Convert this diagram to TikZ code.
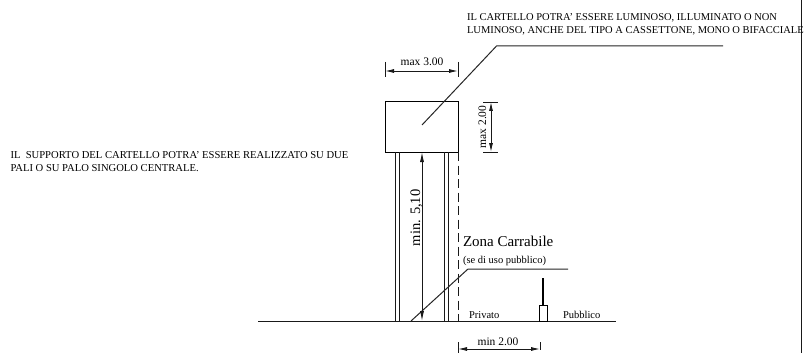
\documentclass[tikz,border=0pt]{standalone}
\usepackage{fontspec}
\setmainfont{Liberation Serif}
\usetikzlibrary{arrows.meta}
\tikzset{
  every node/.style={inner sep=0pt,outer sep=0pt,text=black},
  lbl/.style={anchor=base west},
  note/.style={lbl,font=\fontsize{10.5}{16}\selectfont},
  noteb/.style={lbl,font=\fontsize{10.6}{16}\selectfont},
  dimtext/.style={font=\fontsize{11.5}{12}\selectfont},
  small/.style={lbl,font=\fontsize{10.5}{12}\selectfont},
  line/.style={draw=black!90,line width=0.9pt},
  leader/.style={draw=black!85,line width=1pt},
  dim/.style={line,{Latex[length=9pt,width=4pt]}-{Latex[length=9pt,width=4pt]}},
  tick/.style={draw=black!90,line width=0.8pt}
}
\begin{document}
\begin{tikzpicture}[x=1pt,y=-1pt]
\useasboundingbox (0,0) rectangle (804,353);
\fill[white] (0,0) rectangle (804,353);
% frame edge
\coordinate (edgeT) at (801.5,0); \coordinate (edgeB) at (801.5,353);
\draw[line] (edgeT) -- (edgeB);
% notes
\node[note] (n1) at (467,20.5) {IL CARTELLO POTRA' ESSERE LUMINOSO, ILLUMINATO O NON};
\node[note] (n2) at (467,33.5) {LUMINOSO, ANCHE DEL TIPO A CASSETTONE, MONO O BIFACCIALE};
\node[noteb] (n3) at (10.5,158) {IL\ \ SUPPORTO DEL CARTELLO POTRA' ESSERE REALIZZATO SU DUE};
\node[noteb] (n4) at (10.5,171) {PALI O SU PALO SINGOLO CENTRALE.};
% ground
\coordinate (g1) at (258,321); \coordinate (g2) at (616,321);
\draw[line] (g1) -- (g2);
% board
\node[draw=black,line width=1pt,minimum width=73pt,minimum height=50pt,anchor=north west] (board) at (385,102) {};
% poles
\foreach \x/\n in {395/a,399/b,444/c,448/d}{
  \coordinate (p\n T) at (\x,152); \coordinate (p\n B) at (\x,321);
  \draw[line] (p\n T) -- (p\n B);
}
% dashed limit
\coordinate (dashT) at (458,152); \coordinate (dashB) at (458,321);
\draw[line,dash pattern=on 9pt off 4.5pt] (dashT) -- (dashB);
% post
\node[draw=black,line width=0.9pt,minimum width=8pt,minimum height=16pt,anchor=south] (post) at (543,321) {};
\coordinate (stem) at (543,278);
\draw[draw=black,line width=1.6pt] (post.north) -- (stem);
% leader 1
\coordinate (l1a) at (422,125); \coordinate (l1b) at (496.5,46); \coordinate (l1c) at (723,46);
\draw[leader] (l1a) -- (l1b) -- (l1c);
% leader 2
\coordinate (l2a) at (411,321); \coordinate (l2b) at (468,269); \coordinate (l2c) at (568,269);
\draw[leader] (l2a) -- (l2b) -- (l2c);
% height
\coordinate (hB) at (422,321); \coordinate (hT) at (422,152);
\draw[line,{Latex[length=10pt,width=4pt]}-{Latex[length=10pt,width=4pt]}] (hB) -- (hT);
\node[rotate=90,anchor=base west,font=\fontsize{14.5}{16}\selectfont] (h) at (420,246) {min. 5,10};
% max 3.00
\coordinate (w1a) at (385,62); \coordinate (w1b) at (385,77);
\coordinate (w2a) at (458,62); \coordinate (w2b) at (458,77);
\coordinate (wl) at (385,71); \coordinate (wr) at (458,71);
\draw[tick] (w1a) -- (w1b); \draw[tick] (w2a) -- (w2b);
\draw[dim] (wl) -- (wr);
\node[dimtext,anchor=base] (wt) at (422,66) {max 3.00};
% max 2.00
\coordinate (t1a) at (483,102); \coordinate (t1b) at (498,102);
\coordinate (t2a) at (483,152); \coordinate (t2b) at (498,152);
\coordinate (vt) at (491,102); \coordinate (vb) at (491,152);
\draw[tick] (t1a) -- (t1b); \draw[tick] (t2a) -- (t2b);
\draw[dim] (vt) -- (vb);
\node[dimtext,rotate=90,anchor=base] (vl) at (486,127) {max 2.00};
% min 2.00
\coordinate (m1a) at (458,342); \coordinate (m1b) at (458,353);
\coordinate (m2a) at (540,342); \coordinate (m2b) at (540,350);
\coordinate (ml) at (458,349); \coordinate (mr) at (540,349);
\draw[tick] (m1a) -- (m1b); \draw[tick] (m2a) -- (m2b);
\draw[dim] (ml) -- (mr);
\node[dimtext,anchor=base] (mt) at (498,345) {min 2.00};
% labels
\node[lbl,font=\fontsize{15}{16}\selectfont] (z) at (463,246) {Zona Carrabile};
\node[small] (z2) at (463,263) {(se di uso pubblico)};
\node[small] (pr) at (469,318) {Privato};
\node[small] (pu) at (563,318) {Pubblico};
\end{tikzpicture}
\end{document}
